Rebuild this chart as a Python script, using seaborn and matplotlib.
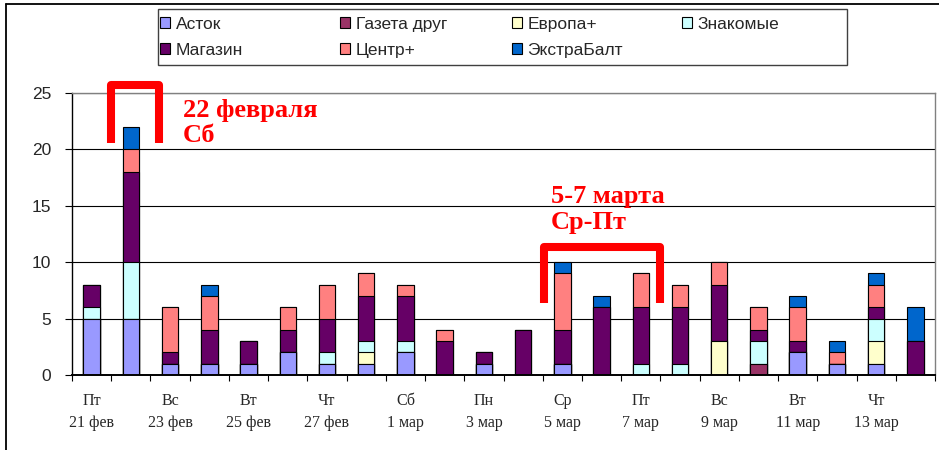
import matplotlib
matplotlib.use("Agg")
import matplotlib.pyplot as plt
import seaborn as sns
import numpy as np
from matplotlib.patches import Patch, Rectangle
from matplotlib.lines import Line2D

# ------------------------------------------------------------------
# данные: 21 фев - 14 мар
days = ["21 фев", "22 фев", "23 фев", "24 фев", "25 фев", "26 фев", "27 фев", "28 фев",
        "1 мар", "2 мар", "3 мар", "4 мар", "5 мар", "6 мар", "7 мар", "8 мар",
        "9 мар", "10 мар", "11 мар", "12 мар", "13 мар", "14 мар"]
tick_labels = ["Пт\n21 фев", "Вс\n23 фев", "Вт\n25 фев", "Чт\n27 фев", "Сб\n1 мар", "Пн\n3 мар",
               "Ср\n5 мар", "Пт\n7 мар", "Вс\n9 мар", "Вт\n11 мар", "Чт\n13 мар"]

astok    = [5, 5, 1, 1, 1, 2, 1, 1, 2, 0, 1, 0, 1, 0, 0, 0, 0, 0, 2, 1, 1, 0]
gazeta   = [0, 0, 0, 0, 0, 0, 0, 0, 0, 0, 0, 0, 0, 0, 0, 0, 0, 1, 0, 0, 0, 0]
evropa   = [0, 0, 0, 0, 0, 0, 0, 1, 0, 0, 0, 0, 0, 0, 0, 0, 3, 0, 0, 0, 2, 0]
znakomye = [1, 5, 0, 0, 0, 0, 1, 1, 1, 0, 0, 0, 0, 0, 1, 1, 0, 2, 0, 0, 2, 0]
magazin  = [2, 8, 1, 3, 2, 2, 3, 4, 4, 3, 1, 4, 3, 6, 5, 5, 5, 1, 1, 0, 1, 3]
centr    = [0, 2, 4, 3, 0, 2, 3, 2, 1, 1, 0, 0, 5, 0, 3, 2, 2, 2, 3, 1, 2, 0]
ekstra   = [0, 2, 0, 1, 0, 0, 0, 0, 0, 0, 0, 0, 1, 1, 0, 0, 0, 0, 1, 1, 1, 3]

series = ["Асток", "Газета друг", "Европа+", "Знакомые", "Магазин", "Центр+", "ЭкстраБалт"]
values = [astok, gazeta, evropa, znakomye, magazin, centr, ekstra]
colors = ["#9999FF", "#993366", "#FFFFCC", "#CCFFFF", "#660066", "#FF8080", "#0066CC"]

# ------------------------------------------------------------------
sns.set_theme(style="white")
plt.rcParams['font.family'] = ['Liberation Sans', 'DejaVu Sans']

fig = plt.figure(figsize=(9.39, 4.5), dpi=100)
ax = fig.add_axes([72/939, 75/450, 863/939, 282/450])

# накопленные суммы, рисуем сверху вниз
cum = np.cumsum(np.array(values), axis=0)
for i in range(len(series) - 1, -1, -1):
    sns.barplot(x=days, y=cum[i], order=days, color=colors[i], saturation=1,
                width=0.42, edgecolor='black', linewidth=0.8, errorbar=None, ax=ax)

ax.set_xlim(-0.5, len(days) - 0.5)
ax.set_ylim(0, 25)
ax.set_axisbelow(True)
ax.yaxis.grid(True, color='black', linewidth=0.8)
ax.xaxis.grid(False)

ax.set_yticks([0, 5, 10, 15, 20, 25])
ax.set_yticklabels(["0", "5", "10", "15", "20", "25"], fontsize=12.5, family=['Liberation Sans', 'DejaVu Sans'])
ax.tick_params(axis='y', left=True, direction='out', length=5, width=0.8, color='black', pad=10)

ax.set_xticks(np.arange(-0.5, len(days), 1))
ax.set_xticklabels([])
ax.set_xticks(np.arange(0, len(days), 2), minor=True)
ax.set_xticklabels(tick_labels, minor=True, fontsize=11.5, linespacing=1.5,
                   family=['Liberation Serif', 'DejaVu Serif'])
ax.tick_params(axis='x', which='major', bottom=True, direction='out', length=4, width=0.8, color='black')
ax.tick_params(axis='x', which='minor', bottom=True, length=0, pad=13)
ax.set_xlabel("")
ax.set_ylabel("")

for s in ['top', 'right']:
    ax.spines[s].set_color('#808080')
    ax.spines[s].set_linewidth(1)
ax.spines['left'].set_color('black')
ax.spines['left'].set_linewidth(1)
ax.spines['bottom'].set_color('black')
ax.spines['bottom'].set_linewidth(1.4)

# красные скобки и подписи
ax.plot([0.49, 0.49, 1.72, 1.72], [20.6, 25.7, 25.7, 20.6], color='red', lw=5.8,
        solid_joinstyle='round', solid_capstyle='butt', clip_on=False, zorder=5)
ax.plot([11.52, 11.52, 14.49, 14.49], [6.4, 11.35, 11.35, 6.4], color='red', lw=5.8,
        solid_joinstyle='round', solid_capstyle='butt', clip_on=False, zorder=5)
ax.text(2.33, 24.45, "22 февраля\nСб", color='red', fontsize=19, fontweight='bold',
        family=['Liberation Serif', 'DejaVu Serif'], va='top', ha='left', linespacing=1.12)
ax.text(11.71, 16.8, "5-7 марта\nСр-Пт", color='red', fontsize=19, fontweight='bold',
        family=['Liberation Serif', 'DejaVu Serif'], va='top', ha='left', linespacing=1.12)

# легенда: 4 столбца одинаковой ширины
handles = [Patch(facecolor=c, edgecolor='black', linewidth=0.8) for c in colors]
columns = [[0, 4], [1, 5], [2, 6], [3]]
col_x = [160, 340, 512, 682]
for idx, x0 in zip(columns, col_x):
    fig.legend([handles[k] for k in idx], [series[k] for k in idx],
               loc='upper left', bbox_to_anchor=(x0/939, (450-17)/450),
               frameon=False, fontsize=12.5, borderpad=0, borderaxespad=0,
               handlelength=0.6, handleheight=0.6, handletextpad=0.3, labelspacing=0.62)
fig.patches.append(Rectangle((158/939, (450-65)/450), 689/939, 56/450, transform=fig.transFigure,
                             fill=False, edgecolor='#404040', linewidth=1))

# рамка области диаграммы
fig.lines.append(Line2D([6/939, 1], [1 - 4/450, 1 - 4/450], transform=fig.transFigure, color='black', lw=1.3))
fig.lines.append(Line2D([6/939, 6/939], [0, 1 - 4/450], transform=fig.transFigure, color='black', lw=1.3))

fig.savefig("out.png", dpi=100)
